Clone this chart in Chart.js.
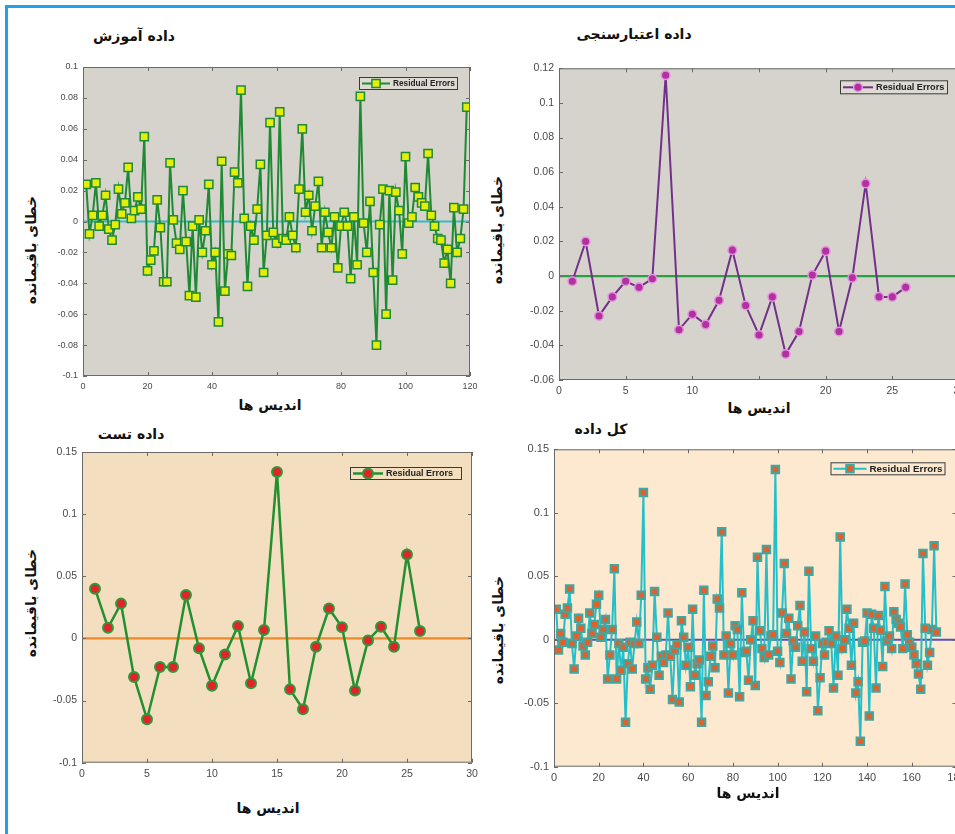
<!DOCTYPE html>
<html lang="fa">
<head>
<meta charset="UTF-8">
<title>خطای باقیمانده</title>
<script src="https://cdn.jsdelivr.net/npm/chart.js"></script>
<style>
  html, body { margin: 0; padding: 0; width: 955px; height: 834px; overflow: hidden; background: #fff; }
  .frame { position: absolute; left: 5px; top: 5px; width: 980px; height: 860px;
           border-top: 3px solid #1ea3ea; border-left: 3px solid #1ea3ea; }
  canvas { position: absolute; }
  .fa { position: absolute; font-family: 'DejaVu Sans', sans-serif; font-weight: bold; color: #111;
        font-size: 14px; white-space: nowrap; direction: rtl; transform: translate(-50%, -50%); }
  .ylab { transform: translate(-50%, -50%) rotate(-90deg); }
</style>
</head>
<body>
<div class="frame"></div>

<canvas id="trainChart" width="440" height="338" style="left:40px;top:57px"></canvas>
<canvas id="valChart" width="460" height="342" style="left:515px;top:58px"></canvas>
<canvas id="testChart" width="442" height="341" style="left:40px;top:442px"></canvas>
<canvas id="allChart" width="465" height="348" style="left:510px;top:439px"></canvas>

<div class="fa" style="left:134px;top:36px">داده آموزش</div>
<div class="fa" style="left:634px;top:34px">داده اعتبارسنجی</div>
<div class="fa" style="left:131px;top:434px">داده تست</div>
<div class="fa" style="left:601px;top:429px">کل داده</div>

<div class="fa" style="left:270px;top:405px">اندیس ها</div>
<div class="fa" style="left:759px;top:408px">اندیس ها</div>
<div class="fa" style="left:268px;top:808px">اندیس ها</div>
<div class="fa" style="left:748px;top:793px">اندیس ها</div>

<div class="fa ylab" style="left:31px;top:250px">خطای باقیمانده</div>
<div class="fa ylab" style="left:497px;top:230px">خطای باقیمانده</div>
<div class="fa ylab" style="left:31px;top:603px">خطای باقیمانده</div>
<div class="fa ylab" style="left:498px;top:630px">خطای باقیمانده</div>

<script>
// residual errors
const trainErrors = [
  0.024, -0.008, 0.004, 0.025, -0.003, 0.004, 0.017, -0.005, -0.012, -0.002,
  0.021, 0.005, 0.012, 0.035, 0.002, 0.007, 0.016, 0.008, 0.055, -0.032,
  -0.025, -0.019, 0.014, -0.004, -0.039, -0.039, 0.038, 0.001, -0.014, -0.018,
  0.020, -0.013, -0.048, -0.003, -0.049, 0.001, -0.020, -0.006, 0.024, -0.028,
  -0.020, -0.065, 0.039, -0.045, -0.021, -0.022, 0.032, 0.025, 0.085, 0.002,
  -0.042, -0.003, -0.012, 0.008, 0.037, -0.033, -0.009, 0.064, -0.007, -0.014,
  0.071, -0.011, -0.012, 0.003, -0.009, -0.017, 0.021, 0.060, 0.006, 0.017,
  -0.006, 0.010, 0.026, -0.017, 0.006, -0.007, -0.017, 0.003, -0.030, -0.003,
  0.006, -0.003, -0.037, 0.003, -0.028, 0.081, -0.001, -0.020, 0.013, -0.033,
  -0.080, -0.002, 0.021, -0.060, 0.020, -0.038, 0.019, 0.007, -0.021, 0.042,
  -0.001, 0.003, 0.022, 0.016, 0.012, 0.010, 0.044, 0.004, -0.003, -0.011,
  -0.012, -0.027, -0.018, -0.040, 0.009, -0.020, -0.011, 0.008, 0.074
];
const valErrors = [
  -0.003, 0.020, -0.023, -0.012, -0.003, -0.0065, -0.0015, 0.116, -0.031, -0.022,
  -0.028, -0.014, 0.015, -0.017, -0.034, -0.012, -0.045, -0.032, 0.0006, 0.0144,
  -0.032, -0.001, 0.0535, -0.012, -0.012, -0.0065
];
const testErrors = [
  0.040, 0.0086, 0.028, -0.031, -0.065, -0.023, -0.023, 0.035, -0.008, -0.038,
  -0.013, 0.010, -0.036, 0.0067, 0.134, -0.041, -0.057, -0.0067, 0.024, 0.009,
  -0.042, -0.0016, 0.0094, -0.0067, 0.0676, 0.006
];
const allErrors = [
  0.024, -0.008, 0.005, -0.002, 0.020, 0.025, 0.040, -0.003, -0.023, 0.003,
  0.017, 0.009, -0.005, -0.012, -0.002, 0.021, 0.005, 0.012, 0.028, 0.035,
  0.002, 0.008, 0.016, -0.031, -0.012, 0.008, 0.056, -0.031, -0.003, -0.024,
  -0.006, -0.065, -0.019, -0.002, -0.023, -0.003, 0.014, -0.003, 0.035, 0.116,
  -0.031, -0.022, -0.039, -0.020, 0.038, 0.002, -0.028, -0.013, -0.018, -0.012,
  0.021, -0.013, -0.047, -0.008, -0.004, -0.049, 0.015, 0.002, -0.020, -0.006,
  -0.037, 0.024, -0.028, -0.019, -0.016, -0.065, 0.039, -0.044, -0.033, -0.013,
  -0.005, -0.022, 0.032, 0.025, 0.085, -0.012, 0.003, -0.042, -0.003, -0.012,
  0.011, 0.008, -0.045, 0.037, -0.010, -0.009, -0.032, 0.000, 0.015, -0.036,
  0.065, 0.007, -0.007, -0.014, 0.071, -0.012, 0.003, 0.004, 0.134, -0.009,
  -0.018, 0.021, 0.060, 0.005, 0.017, -0.031, -0.001, -0.006, 0.011, 0.027,
  -0.017, 0.006, -0.041, 0.054, -0.007, -0.017, 0.003, -0.056, -0.030, -0.003,
  -0.012, -0.002, 0.007, -0.003, -0.038, 0.003, -0.028, 0.081, -0.007, 0.000,
  0.024, 0.009, -0.020, 0.013, -0.042, -0.033, -0.080, -0.002, -0.001, 0.021,
  -0.060, 0.020, 0.009, -0.038, 0.019, 0.0075, -0.021, 0.042, -0.001, 0.003,
  -0.007, 0.022, 0.016, 0.013, 0.010, -0.007, 0.044, 0.004, -0.002, -0.006,
  -0.012, -0.019, -0.027, -0.039, 0.068, 0.009, -0.020, -0.010, 0.008, 0.074, 0.006
];

// ticks (the original leaves out 60 and 15 on two x axes)
const trainXTicks = [0, 20, 40, 60, 80, 100, 120];
const trainXLabels = ['0', '20', '40', '', '80', '100', '120'];
const trainYTicks = [-0.1, -0.08, -0.06, -0.04, -0.02, 0, 0.02, 0.04, 0.06, 0.08, 0.1];
const trainYLabels = ['-0.1', '-0.08', '-0.06', '-0.04', '-0.02', '0', '0.02', '0.04', '0.06', '0.08', '0.1'];
const valXTicks = [0, 5, 10, 15, 20, 25, 30];
const valXLabels = ['0', '5', '10', '', '20', '25', '30'];
const valYTicks = [-0.06, -0.04, -0.02, 0, 0.02, 0.04, 0.06, 0.08, 0.1, 0.12];
const valYLabels = ['-0.06', '-0.04', '-0.02', '0', '0.02', '0.04', '0.06', '0.08', '0.1', '0.12'];
const testXTicks = [0, 5, 10, 15, 20, 25, 30];
const testXLabels = ['0', '5', '10', '15', '20', '25', '30'];
const allXTicks = [0, 20, 40, 60, 80, 100, 120, 140, 160, 180];
const allXLabels = ['0', '20', '40', '60', '80', '100', '120', '140', '160', '180'];
const resYTicks = [-0.1, -0.05, 0, 0.05, 0.1, 0.15];
const resYLabels = ['-0.1', '-0.05', '0', '0.05', '0.1', '0.15'];

const legendText = 'Residual Errors';

function toPoints(arr) {
  return arr.map((v, i) => ({ x: i + 1, y: v }));
}

function drawMarker(ctx, ds, x, y) {
  const r = ds.pointRadius;
  ctx.save();
  ctx.fillStyle = ds.pointBackgroundColor;
  ctx.strokeStyle = ds.pointBorderColor;
  ctx.lineWidth = ds.pointBorderWidth;
  ctx.beginPath();
  if (ds.pointStyle === 'rect') {
    const s = r * Math.SQRT1_2;
    ctx.rect(x - s, y - s, 2 * s, 2 * s);
  } else {
    ctx.arc(x, y, r, 0, Math.PI * 2);
  }
  ctx.fill();
  ctx.stroke();
  ctx.restore();
}

// matlab-like axes: coloured plot area, zero line, box with inner ticks, framed legend
const matlabAxes = {
  id: 'matlabAxes',
  beforeDraw(chart, args, o) {
    const a = chart.chartArea, ctx = chart.ctx;
    ctx.save();
    ctx.fillStyle = o.bg;
    ctx.fillRect(a.left, a.top, a.right - a.left, a.bottom - a.top);
    ctx.restore();
  },
  beforeDatasetsDraw(chart, args, o) {
    const a = chart.chartArea, ctx = chart.ctx;
    const y0 = chart.scales.y.getPixelForValue(0);
    ctx.save();
    ctx.strokeStyle = o.zeroColor;
    ctx.lineWidth = 2.2;
    ctx.beginPath();
    ctx.moveTo(a.left, y0);
    ctx.lineTo(a.right, y0);
    ctx.stroke();
    ctx.restore();
  },
  afterDraw(chart, args, o) {
    const a = chart.chartArea, ctx = chart.ctx;
    const xs = chart.scales.x, ys = chart.scales.y;
    ctx.save();
    ctx.strokeStyle = '#6a6a6a';
    ctx.lineWidth = 1;
    ctx.strokeRect(a.left + 0.5, a.top + 0.5, a.right - a.left - 1, a.bottom - a.top - 1);
    ctx.beginPath();
    xs.ticks.forEach(t => {
      const px = Math.round(xs.getPixelForValue(t.value)) + 0.5;
      ctx.moveTo(px, a.bottom); ctx.lineTo(px, a.bottom - 4);
      ctx.moveTo(px, a.top); ctx.lineTo(px, a.top + 4);
    });
    ys.ticks.forEach(t => {
      const py = Math.round(ys.getPixelForValue(t.value)) + 0.5;
      ctx.moveTo(a.left, py); ctx.lineTo(a.left + 4, py);
      ctx.moveTo(a.right, py); ctx.lineTo(a.right - 4, py);
    });
    ctx.stroke();

    // legend box
    const lg = o.legend;
    const lx = a.right - lg.right - lg.w, ly = a.top + lg.top;
    ctx.fillStyle = lg.bg;
    ctx.fillRect(lx, ly, lg.w, lg.h);
    ctx.strokeStyle = '#3a3a3a';
    ctx.strokeRect(lx + 0.5, ly + 0.5, lg.w - 1, lg.h - 1);
    const ds = chart.data.datasets[0];
    const my = ly + lg.h / 2;
    ctx.strokeStyle = ds.borderColor;
    ctx.lineWidth = ds.borderWidth;
    ctx.beginPath();
    ctx.moveTo(lx + 3, my);
    ctx.lineTo(lx + 3 + lg.line, my);
    ctx.stroke();
    drawMarker(ctx, ds, lx + 3 + lg.line / 2, my);
    ctx.fillStyle = '#222';
    ctx.font = 'bold ' + lg.font + 'px "Liberation Sans", Arial, sans-serif';
    ctx.textBaseline = 'middle';
    ctx.fillText(legendText, lx + lg.line + 6, my + 0.5);
    ctx.restore();
  }
};

function makePanel(id, p) {
  const canvas = document.getElementById(id);
  const cl = parseFloat(canvas.style.left), ct = parseFloat(canvas.style.top);
  const cw = canvas.width, ch = canvas.height;
  const [L, T, R, B] = p.area;
  const tickFont = { family: '"Liberation Sans", Arial, sans-serif', size: p.tickSize };
  return new Chart(canvas, {
    type: 'line',
    data: {
      datasets: [{
        label: legendText,
        data: toPoints(p.values),
        borderColor: p.line,
        borderWidth: p.lineWidth,
        pointStyle: p.marker,
        pointRadius: p.radius,
        pointBackgroundColor: p.fill,
        pointBorderColor: p.edge,
        pointBorderWidth: p.edgeWidth,
        tension: 0
      }]
    },
    options: {
      responsive: false,
      animation: false,
      events: [],
      layout: { padding: { top: T - ct, right: cl + cw - R, left: 0, bottom: 0 } },
      plugins: {
        legend: { display: false },
        tooltip: { enabled: false },
        matlabAxes: { bg: p.bg, zeroColor: p.zero, legend: p.legend }
      },
      scales: {
        x: {
          type: 'linear', min: p.xTicks[0], max: p.xTicks[p.xTicks.length - 1],
          grid: { display: false, drawTicks: false }, border: { display: false },
          afterBuildTicks: s => { s.ticks = p.xTicks.map(v => ({ value: v })); },
          afterFit: s => { s.height = ct + ch - B; s.paddingLeft = 0; s.paddingRight = 0; },
          ticks: { autoSkip: false, maxRotation: 0, padding: 5, color: '#4a4a4a', font: tickFont,
                   callback: (v, i) => p.xLabels[i] }
        },
        y: {
          type: 'linear', min: p.yTicks[0], max: p.yTicks[p.yTicks.length - 1],
          grid: { display: false, drawTicks: false }, border: { display: false },
          afterBuildTicks: s => { s.ticks = p.yTicks.map(v => ({ value: v })); },
          afterFit: s => { s.width = L - cl; s.paddingTop = 0; s.paddingBottom = 0; },
          ticks: { autoSkip: false, padding: 5, color: '#4a4a4a', font: tickFont,
                   callback: (v, i) => p.yLabels[i] }
        }
      }
    },
    plugins: [matlabAxes]
  });
}

makePanel('trainChart', {
  values: trainErrors, area: [83, 67, 470, 376],
  xTicks: trainXTicks, xLabels: trainXLabels, yTicks: trainYTicks, yLabels: trainYLabels,
  tickSize: 9, bg: '#d6d3cc', zero: '#35bcc6',
  line: '#1f8a33', lineWidth: 2, marker: 'rect', radius: 5.8, fill: '#e4ee0a', edge: '#1f8a33', edgeWidth: 1.5,
  legend: { right: 12, top: 10, w: 99, h: 13, line: 28, font: 8.3, bg: '#dedbd5' }
});

makePanel('valChart', {
  values: valErrors, area: [559, 68.3, 959, 380],
  xTicks: valXTicks, xLabels: valXLabels, yTicks: valYTicks, yLabels: valYLabels,
  tickSize: 10.5, bg: '#d6d3cc', zero: '#27a243',
  line: '#73308a', lineWidth: 2, marker: 'circle', radius: 4.3, fill: '#b1329f', edge: '#e58fe2', edgeWidth: 1.5,
  legend: { right: 11, top: 12, w: 108, h: 14, line: 30, font: 9.2, bg: '#dedbd5' }
});

makePanel('testChart', {
  values: testErrors, area: [82, 452, 472, 762.7],
  xTicks: testXTicks, xLabels: testXLabels, yTicks: resYTicks, yLabels: resYLabels,
  tickSize: 10.5, bg: '#f3dfc0', zero: '#f0882a',
  line: '#22902e', lineWidth: 2.5, marker: 'circle', radius: 5, fill: '#e2242a', edge: '#2a9c3a', edgeWidth: 2,
  legend: { right: 10, top: 15, w: 112, h: 13, line: 30, font: 9, bg: '#f3dfc0' }
});

makePanel('allChart', {
  values: allErrors, area: [554, 449.3, 956.5, 766.7],
  xTicks: allXTicks, xLabels: allXLabels, yTicks: resYTicks, yLabels: resYLabels,
  tickSize: 11, bg: '#fce9d0', zero: '#5a4fba',
  line: '#24bfc8', lineWidth: 2, marker: 'rect', radius: 5.3, fill: '#e0602e', edge: '#3ea8a2', edgeWidth: 2,
  legend: { right: 11, top: 13, w: 115, h: 13, line: 33, font: 9.8, bg: '#fce9d0' }
});
</script>
</body>
</html>
